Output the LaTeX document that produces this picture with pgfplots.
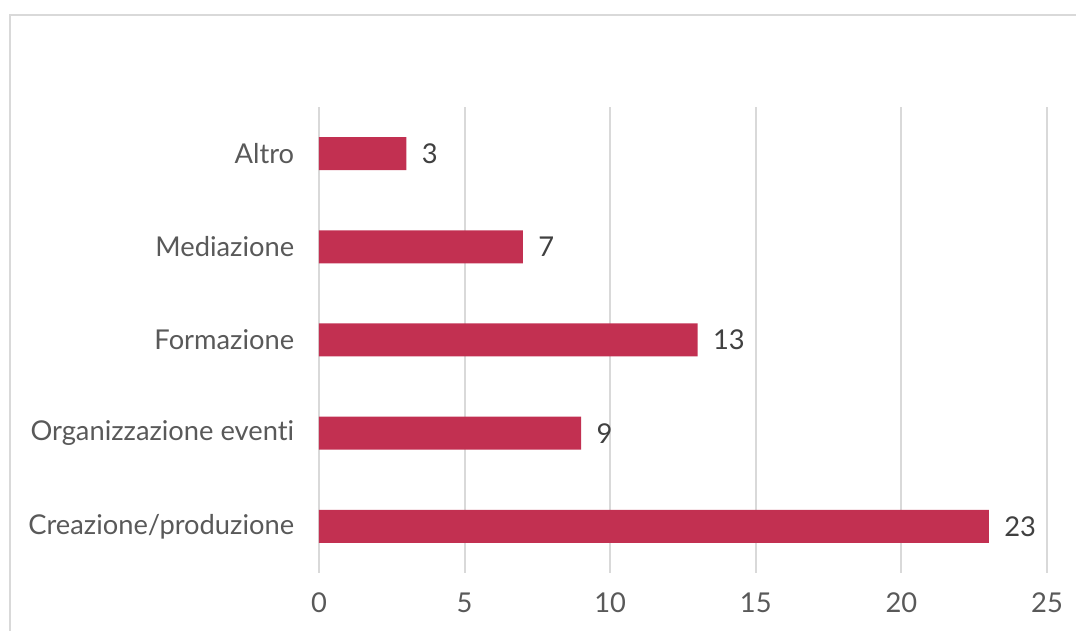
\documentclass[border=0pt]{standalone}
\usepackage{fontspec}
\setmainfont[Ligatures=NoCommon]{Lato}
\usepackage{pgfplots}
\pgfplotsset{compat=1.18}
\definecolor{barred}{HTML}{C23051}
\definecolor{txt}{HTML}{595959}
\definecolor{num}{HTML}{404040}
\definecolor{grd}{HTML}{D9D9D9}

\begin{document}
\begin{tikzpicture}[x=1pt,y=1pt]
\path[use as bounding box] (0,0) rectangle (1076,631);
\begin{scope}
  \clip (0,0) rectangle (1076,631);
  \draw[grd, line width=2pt] (10,-20) rectangle (1100,616);
\end{scope}
\begin{axis}[
  at={(319pt,58pt)}, anchor=south west,
  scale only axis, width=728pt, height=466pt,
  xbar, bar width=33pt,
  xmin=0, xmax=25, ymin=-0.5, ymax=4.5,
  xtick={0,5,...,25}, ytick={0,...,4},
  yticklabels={Creazione/produzione, Organizzazione eventi, Formazione, Mediazione, Altro},
  xmajorgrids, grid style={grd, line width=2pt},
  axis line style={draw=none}, major tick style={draw=none},
  ticklabel style={font=\fontsize{27.3}{32}\selectfont, text=txt},
  /pgf/number format/assume math mode=true,
  xticklabel style={yshift=-16pt},
  yticklabel style={xshift=-17pt},
  nodes near coords,
  every node near coord/.append style={font=\fontsize{27.3}{32}\selectfont, text=num, xshift=12pt},
]
\addplot[fill=barred, draw=none] coordinates {
  (23,0) (9,1) (13,2) (7,3) (3,4)
};
\end{axis}
\end{tikzpicture}
\end{document}
